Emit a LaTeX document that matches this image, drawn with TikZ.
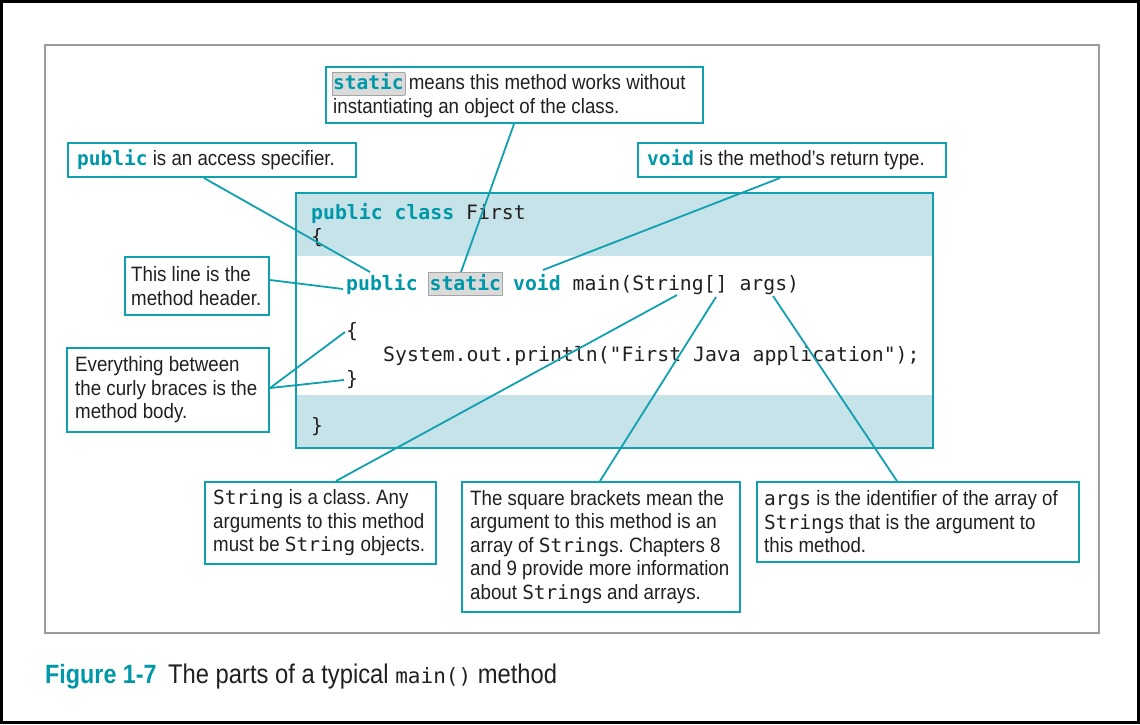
\documentclass[tikz,border=0pt]{standalone}
\usepackage{fontspec}
\setmainfont{Liberation Sans}[FakeStretch=0.9]
\newfontfamily\capfont{Liberation Sans}[FakeStretch=0.88]
\setmonofont{DejaVu Sans Mono}
\usetikzlibrary{calc}
\frenchspacing
\definecolor{teal1}{RGB}{0,152,169}
\definecolor{tealline}{RGB}{16,160,176}
\definecolor{band}{RGB}{197,227,232}
\definecolor{hlf}{RGB}{218,218,218}
\definecolor{hlb}{RGB}{165,165,165}
\definecolor{ink}{RGB}{35,31,32}
\definecolor{framegray}{RGB}{155,155,155}
\newcommand{\kw}[1]{{\ttfamily\bfseries\color{teal1}#1}}
\newcommand{\mn}[1]{{\fontsize{19.5}{23.5}\selectfont\ttfamily #1}}
\newcommand{\hlbox}[1]{\kern-1.6pt\relax{\setlength{\fboxsep}{1pt}\setlength{\fboxrule}{0.6pt}\fcolorbox{hlb}{hlf}{\vphantom{Ag}#1}}\kern-1.6pt\relax}
\tikzset{
  cbox/.style={draw=tealline, line width=2pt, fill=white, inner sep=0pt, anchor=north west},
  ctext/.style={anchor=west, inner sep=0pt, align=left, text=ink, font=\fontsize{20.8}{23.5}\selectfont},
  conn/.style={draw=tealline, line width=1.8pt},
  codeline/.style={anchor=base west, inner sep=0pt, text=ink, font=\fontsize{19.8}{23.5}\selectfont\ttfamily},
}
\begin{document}
\begin{tikzpicture}[x=1pt,y=-1pt]
\useasboundingbox (0,0) rectangle (1140,724);
\fill[black] (0,0) rectangle (1140,724);
\fill[white] (3,3) rectangle (1136.5,720.5);
\draw[framegray, line width=2.2pt] (45,45) rectangle (1099,633);

% code box
\fill[white] (295,192) rectangle (932,447);
\fill[band] (295,192) rectangle (932,256);
\fill[band] (295,395) rectangle (932,447);
\node[draw=tealline, line width=2pt, inner sep=0pt, anchor=north west, minimum width=637pt, minimum height=255pt] (codebox) at (295,192) {};

\node[codeline] (l1) at (311,219) {\kw{public class} First};
\node[codeline] (l2) at (311,243) {\{};
\node[codeline] (l3) at (346,290) {\kw{public} \hlbox{\kw{static}} \kw{void} main(String[] args)};
\node[codeline] (l4) at (346,337) {\{};
\node[codeline] (l5) at (383,361) {System.out.println("First Java application");};
\node[codeline] (l6) at (346,385) {\}};
\node[codeline] (l7) at (311,432) {\}};

% targets
\coordinate (tstatic) at (461,272);
\coordinate (tpublic) at (370,272);
\coordinate (tvoid) at (543,270);
\coordinate (thdr) at (343,289);
\coordinate (tob) at (345,332);
\coordinate (tcb) at (344,380);
\coordinate (tstr) at (677,295);
\coordinate (tbrk) at (716,297);
\coordinate (targ) at (773,296);

% callout boxes
\node[cbox, minimum width=377pt, minimum height=56pt] (stbox) at (325,66) {};
\node[cbox, minimum width=288pt, minimum height=34pt] (pubbox) at (67,142) {};
\node[cbox, minimum width=308pt, minimum height=34pt] (voidbox) at (637,142) {};
\node[cbox, minimum width=144pt, minimum height=58pt] (hdrbox) at (124,256) {};
\node[cbox, minimum width=202pt, minimum height=84pt] (bodybox) at (66,347) {};
\node[cbox, minimum width=231pt, minimum height=82pt] (strbox) at (204,481) {};
\node[cbox, minimum width=278pt, minimum height=130pt] (brkbox) at (461,481) {};
\node[cbox, minimum width=322pt, minimum height=80pt] (argbox) at (756,481) {};

\node[ctext] (stt) at ([xshift=8pt]stbox.west) {\hlbox{\mn{\kw{static}}} means this method works without\\instantiating an object of the class.};
\node[ctext] (pubt) at ([xshift=10pt]pubbox.west) {\mn{\kw{public}} is an access specifier.};
\node[ctext] (voidt) at ([xshift=10pt]voidbox.west) {\mn{\kw{void}} is the method’s return type.};
\node[ctext] (hdrt) at ([xshift=7pt]hdrbox.west) {This line is the\\method header.};
\node[ctext] (bodyt) at ([xshift=9pt]bodybox.west) {Everything between\\the curly braces is the\\method body.};
\node[ctext] (strt) at ([xshift=9pt]strbox.west) {\mn{String} is a class. Any\\arguments to this method\\must be \mn{String} objects.};
\node[ctext] (brkt) at ([xshift=9pt]brkbox.west) {The square brackets mean the\\argument to this method is an\\array of \mn{String}s. Chapters 8\\and 9 provide more information\\about \mn{String}s and arrays.};
\node[ctext] (argt) at ([xshift=8pt]argbox.west) {\mn{args} is the identifier of the array of\\\mn{String}s that is the argument to\\this method.};

% connectors
\draw[conn] ($(stbox.south west)+(189,0)$) -- (tstatic);
\draw[conn] ($(pubbox.south west)+(137,0)$) -- (tpublic);
\draw[conn] ($(voidbox.south west)+(143,0)$) -- (tvoid);
\draw[conn] ($(hdrbox.north east)+(0,24)$) -- (thdr);
\draw[conn] ($(bodybox.north east)+(0,41)$) -- (tob);
\draw[conn] ($(bodybox.north east)+(0,41)$) -- (tcb);
\draw[conn] ($(strbox.north west)+(132,0)$) -- (tstr);
\draw[conn] ($(brkbox.north west)+(139,0)$) -- (tbrk);
\draw[conn] ($(argbox.north west)+(141,0)$) -- (targ);

% caption
\node[anchor=base west, inner sep=0pt, text=teal1, font=\capfont\fontsize{26.5}{30}\selectfont\bfseries] (fig) at (45,683) {Figure 1-7};
\node[anchor=base west, inner sep=0pt, text=ink, font=\capfont\fontsize{27}{30}\selectfont] (cap) at (168,683) {The parts of a typical {\fontsize{21}{30}\selectfont\ttfamily main()} method};
\end{tikzpicture}
\end{document}
